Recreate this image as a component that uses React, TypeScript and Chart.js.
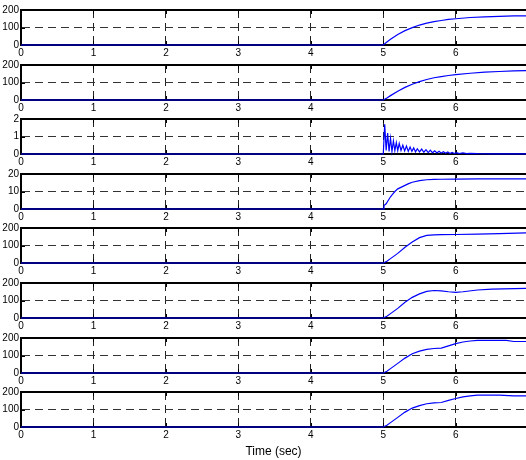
import React, { useEffect, useRef } from 'react';
import { Chart, registerables } from 'chart.js';

Chart.register(...registerables);

// ---- data ----
const xTickValues = [0, 1, 2, 3, 4, 5, 6];
const xMax = 6.97;
const xTitle = 'Time (sec)';

const ticks200 = [0, 100, 200];
const ticks2 = [0, 1, 2];
const ticks20 = [0, 10, 20];

const p1Time = [0, 5.0, 5.05, 5.1, 5.2, 5.3, 5.4, 5.5, 5.6, 5.7, 5.8, 5.9, 6.0, 6.2, 6.4, 6.6, 6.8, 7.0];
const p1Value = [0, 0, 17, 33, 60, 82, 99, 114, 125, 134, 140, 146, 150, 157, 161, 164, 166, 167];

const p2Time = [0, 5.0, 5.05, 5.1, 5.2, 5.3, 5.4, 5.5, 5.6, 5.7, 5.8, 5.9, 6.0, 6.2, 6.4, 6.6, 6.8, 7.0];
const p2Value = [0, 0, 12, 25, 50, 72, 90, 105, 117, 127, 134, 140, 145, 153, 159, 163, 166, 168];

const p3Time = [0, 5.0, 5.02, 5.04, 5.06, 5.08, 5.1, 5.12, 5.14, 5.16, 5.18, 5.2, 5.22, 5.245, 5.27, 5.295, 5.32, 5.345, 5.37, 5.395, 5.42, 5.445, 5.47, 5.5, 5.53, 5.56, 5.59, 5.62, 5.65, 5.68, 5.71, 5.74, 5.77, 5.8, 5.83, 5.86, 5.89, 5.92, 5.95, 5.98, 6.01, 6.05, 6.1, 6.15, 6.2, 6.3, 6.5, 7];
const p3Value = [0, 0, 1.7, 0.2, 1.2, 0.15, 0.9, 0.15, 0.75, 0.2, 0.65, 0.2, 0.6, 0.2, 0.5, 0.18, 0.45, 0.15, 0.4, 0.15, 0.35, 0.12, 0.3, 0.12, 0.28, 0.1, 0.25, 0.08, 0.22, 0.07, 0.18, 0.06, 0.15, 0.05, 0.13, 0.04, 0.11, 0.03, 0.09, 0.03, 0.08, 0.02, 0.06, 0.02, 0.04, 0.02, 0.01, 0.01];

const p4Time = [0, 5.0, 5.01, 5.04, 5.07, 5.1, 5.13, 5.16, 5.2, 5.25, 5.3, 5.35, 5.4, 5.5, 5.6, 5.7, 5.8, 6.0, 6.3, 7];
const p4Value = [0, 0, 2, 3, 5, 7, 8.5, 10, 11.5, 12.5, 13.5, 14.5, 15.3, 16.2, 16.7, 16.9, 17, 17.1, 17.2, 17.2];

const p5Time = [0, 5.0, 5.05, 5.1, 5.2, 5.3, 5.4, 5.5, 5.6, 5.7, 5.8, 6.0, 6.3, 6.6, 7.0];
const p5Value = [0, 0, 10, 25, 55, 90, 120, 145, 158, 161, 162, 163, 165, 168, 172];

const p6Time = [0, 5.0, 5.05, 5.1, 5.2, 5.3, 5.4, 5.5, 5.6, 5.7, 5.8, 5.9, 6.0, 6.1, 6.3, 6.5, 7.0];
const p6Value = [0, 0, 10, 25, 55, 90, 118, 138, 152, 157, 155, 150, 146, 150, 160, 165, 170];

const p7Time = [0, 5.0, 5.05, 5.1, 5.2, 5.3, 5.4, 5.5, 5.6, 5.7, 5.8, 5.9, 6.0, 6.1, 6.2, 6.3, 6.5, 6.7, 6.8, 7.0];
const p7Value = [0, 0, 10, 25, 55, 85, 110, 125, 135, 140, 142, 155, 168, 177, 183, 186, 186, 186, 180, 180];

const p8Time = [0, 5.0, 5.05, 5.1, 5.2, 5.3, 5.4, 5.5, 5.6, 5.7, 5.8, 5.9, 6.0, 6.1, 6.2, 6.3, 6.6, 6.8, 7.0];
const p8Value = [0, 0, 10, 25, 55, 85, 108, 122, 133, 138, 140, 152, 163, 172, 178, 182, 182, 178, 178];

const panels = [
  { t: p1Time, v: p1Value, yTicks: ticks200 },
  { t: p2Time, v: p2Value, yTicks: ticks200 },
  { t: p3Time, v: p3Value, yTicks: ticks2 },
  { t: p4Time, v: p4Value, yTicks: ticks20 },
  { t: p5Time, v: p5Value, yTicks: ticks200 },
  { t: p6Time, v: p6Value, yTicks: ticks200 },
  { t: p7Time, v: p7Value, yTicks: ticks200 },
  { t: p8Time, v: p8Value, yTicks: ticks200 },
];

// ---- layout ----
const W = 526;
const PANEL_H = 35;
const PAD_TOP = 8;
const X_AXIS_H = 11;
const LAST_X_AXIS_H = 33;
const panelTops = [2, 57, 111, 166, 220, 275, 330, 384];
const tickFont = { family: "'Liberation Sans Narrow', 'Arial Narrow', 'Liberation Sans', Arial, sans-serif", size: 10 };
const titleFont = { family: "'Liberation Sans', Arial, sans-serif", size: 12 };

const framePlugin = {
  id: 'matlabFrame',
  beforeDatasetsDraw(chart: any) {
    const { ctx, chartArea: a, scales } = chart;
    const xs = scales.x;
    const ys = scales.y;
    ctx.save();
    ctx.strokeStyle = '#000';
    ctx.lineWidth = 1;
    ctx.beginPath();
    xTickValues.forEach((v) => {
      const px = Math.round(xs.getPixelForValue(v)) + 0.5;
      ctx.moveTo(px, a.top);
      ctx.lineTo(px, a.top + 4);
      ctx.moveTo(px, a.bottom);
      ctx.lineTo(px, a.bottom - 4);
    });
    ys.ticks.forEach((t: any) => {
      const py = Math.round(ys.getPixelForValue(t.value)) + 0.5;
      ctx.moveTo(a.left, py);
      ctx.lineTo(a.left + 4, py);
    });
    ctx.stroke();
    ctx.lineWidth = 2;
    ctx.beginPath();
    ctx.moveTo(a.left - 1, a.top);
    ctx.lineTo(a.right, a.top);
    ctx.stroke();
    ctx.restore();
  },
};

function makeConfig(idx: number): any {
  const p = panels[idx];
  const last = idx === panels.length - 1;
  const xH = last ? LAST_X_AXIS_H : X_AXIS_H;
  const yMax = p.yTicks[p.yTicks.length - 1];
  return {
    type: 'line',
    data: {
      datasets: [
        {
          data: p.t.map((t, i) => ({ x: t, y: p.v[i] })),
          borderColor: '#0000ff',
          borderWidth: 1.2,
          pointRadius: 0,
          tension: 0,
          fill: false,
          clip: 4,
        },
      ],
    },
    options: {
      responsive: false,
      animation: false,
      devicePixelRatio: 1,
      layout: { padding: { top: PAD_TOP, left: 0, right: 0, bottom: 0 } },
      plugins: { legend: { display: false }, tooltip: { enabled: false } },
      scales: {
        x: {
          type: 'linear',
          min: 0,
          max: xMax,
          afterBuildTicks: (ax: any) => {
            ax.ticks = xTickValues.map((value) => ({ value }));
          },
          afterFit: (ax: any) => {
            ax.height = xH;
            ax.paddingLeft = 0;
            ax.paddingRight = 0;
          },
          ticks: {
            font: tickFont,
            color: '#000',
            padding: 2,
            maxRotation: 0,
            autoSkip: false,
            callback: (v: any) => String(v),
          },
          grid: { color: '#222', lineWidth: 1, drawTicks: false },
          border: { display: true, color: '#000', width: 2, dash: [8, 5] },
          title: {
            display: last,
            text: xTitle,
            font: titleFont,
            color: '#000',
            padding: { top: 0, bottom: 1 },
          },
        },
        y: {
          type: 'linear',
          min: 0,
          max: yMax,
          afterBuildTicks: (ax: any) => {
            ax.ticks = p.yTicks.map((value) => ({ value }));
          },
          afterFit: (ax: any) => {
            ax.width = 21;
            ax.paddingTop = 0;
            ax.paddingBottom = 0;
          },
          ticks: {
            font: tickFont,
            color: '#000',
            padding: 2,
            callback: (v: any) => String(v),
          },
          grid: { color: '#333', lineWidth: 1, drawTicks: false },
          border: { display: true, color: '#000', width: 2, dash: [8, 5] },
        },
      },
    },
    plugins: [framePlugin],
  };
}

export default function App() {
  const refs = useRef<(HTMLCanvasElement | null)[]>([]);

  useEffect(() => {
    const charts: Chart[] = [];
    panels.forEach((_, i) => {
      const c = refs.current[i];
      if (c) charts.push(new Chart(c, makeConfig(i)));
    });
    return () => charts.forEach((c) => c.destroy());
  }, []);

  return (
    <div style={{ position: 'fixed', left: 0, top: 0, width: W, height: 460, background: '#fff' }}>
      {panels.map((_, i) => {
        const last = i === panels.length - 1;
        const h = PAD_TOP + PANEL_H + (last ? LAST_X_AXIS_H : X_AXIS_H);
        return (
          <canvas
            key={i}
            ref={(el) => {
              refs.current[i] = el;
            }}
            width={W}
            height={h}
            style={{ position: 'absolute', left: 0, top: panelTops[i], width: W, height: h }}
          />
        );
      })}
    </div>
  );
}
